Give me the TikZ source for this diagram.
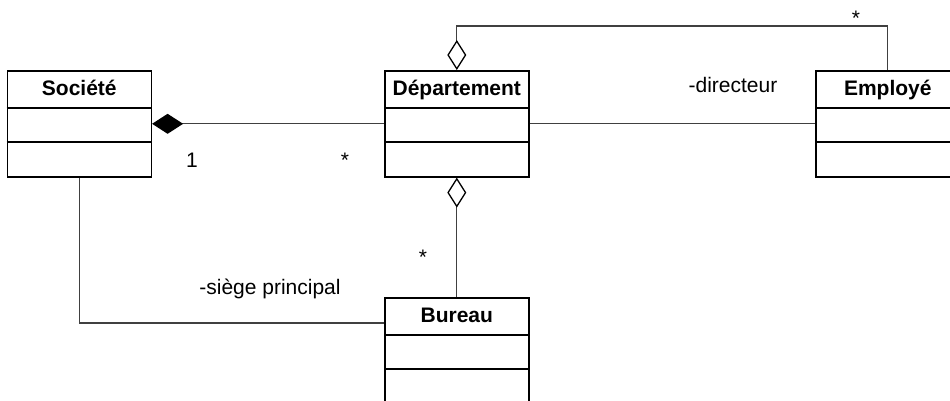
\documentclass[tikz,border=0pt]{standalone}
\usepackage{fontspec}
\setmainfont{Liberation Sans}
\usetikzlibrary{arrows.meta,calc}
\tikzset{
  classbox/.style={draw=black, line width=1.6pt, minimum width=144pt, minimum height=106pt, inner sep=0pt, fill=white},
  classtitle/.style={anchor=base, inner sep=0pt, font=\fontsize{21}{25}\selectfont\bfseries},
  lbl/.style={anchor=base, inner sep=0pt, font=\fontsize{21}{25}\selectfont},
  conn/.style={draw=black!75, line width=1.3pt},
  compo/.style={conn, -{Diamond[length=31pt,width=20pt,color=black]}},
  aggr/.style={conn, -{Diamond[open,length=30pt,width=19pt,color=black,line width=1.3pt]}},
}
\newcommand\umlclass[4]{%
  \node[classbox, anchor=north west] (#1) at (#2,#3) {};
  \node[classtitle] (#1-t) at ([yshift=-25pt]#1.north) {#4};
  \draw[line width=1.6pt] ([yshift=-38pt]#1.north west) -- ([yshift=-38pt]#1.north east);
  \draw[line width=1.6pt] ([yshift=-72pt]#1.north west) -- ([yshift=-72pt]#1.north east);
}
\begin{document}
\begin{tikzpicture}[x=1pt,y=-1pt]
\useasboundingbox (0,0) rectangle (950,400);
\umlclass{soc}{6.5}{70}{Société}
\umlclass{dep}{384}{70}{Département}
\umlclass{emp}{815}{70}{Employé}
\umlclass{bur}{384}{297}{Bureau}
% connectors
\draw[compo] (dep.west) -- (soc.east);
\draw[conn] (dep.east) -- (emp.west);
\draw[aggr] (emp.north) -- ++(0,-44) -| (dep.north);
\draw[aggr] (bur.north) -- (dep.south);
\draw[conn] (soc.south) |- ($(bur.north west)+(0,26)$);
% labels
\node[lbl] (m1) at (192,167) {1};
\node[lbl] (m2) at (345,167) {*};
\node[lbl] (dir) at (733,92) {-directeur};
\node[lbl] (m3) at (856,25) {*};
\node[lbl] (m4) at (423,264) {*};
\node[lbl] (siege) at (270,294) {-siège principal};
\end{tikzpicture}
\end{document}
